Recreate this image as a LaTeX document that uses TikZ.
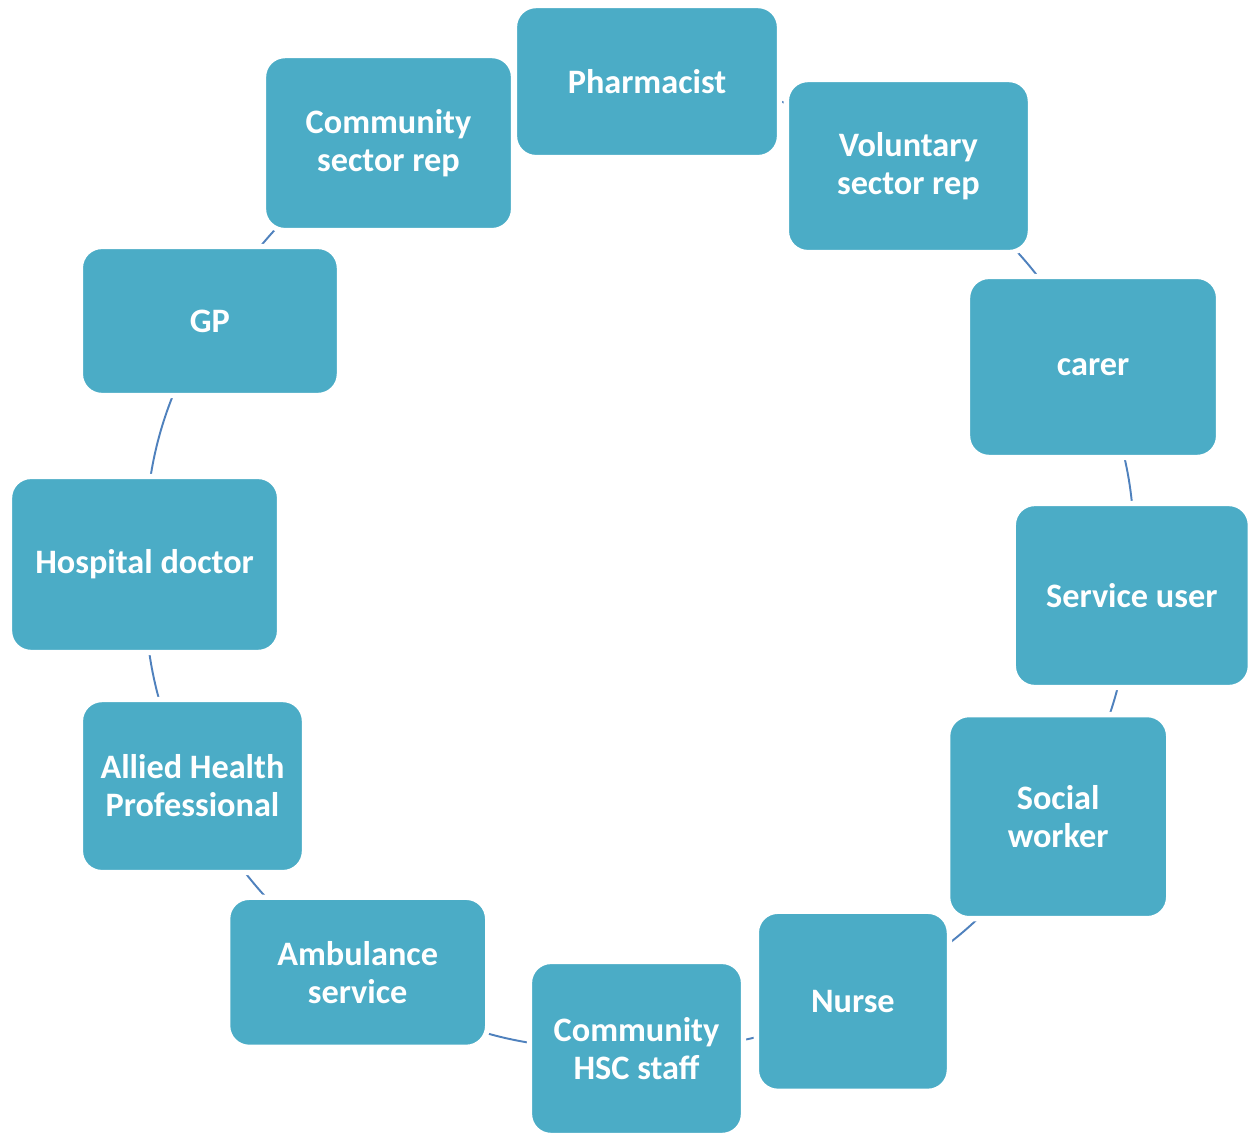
\documentclass[tikz,border=0pt]{standalone}
\usepackage{fontspec}
\setmainfont{Carlito}
\usetikzlibrary{backgrounds}
\definecolor{boxfill}{HTML}{4BACC6}
\definecolor{ringline}{HTML}{4F81BD}
\tikzset{
  member/.style={fill=boxfill, draw=white, line width=3pt, rounded corners=0.43cm, text=white,
    font=\bfseries\fontsize{19.5}{21.6}\selectfont, align=center, inner sep=0pt},
  ring/.style={color=ringline, line width=1.1pt}
}
\begin{document}
\begin{tikzpicture}
      \useasboundingbox (-12.8,-11.32) rectangle (12.2,11.4);
      \draw
        (89.18:9.77) node[member, minimum width=5.3cm, minimum height=3.04cm] (pharm){Pharmacist}
        (56.4:9.70) node[member, minimum width=4.88cm, minimum height=3.46cm] (vol){Voluntary\\sector rep}
        (24.14:9.93) node[member, minimum width=5.02cm, minimum height=3.62cm] (carer){carer}
        (-2.97:9.85) node[member, minimum width=4.74cm, minimum height=3.68cm] (user){Service user}
        (-30.53:9.71) node[member, minimum width=4.42cm, minimum height=4.08cm] (social){Social\\worker}
        (-63.73:9.62) node[member, minimum width=3.86cm, minimum height=3.6cm] (nurse){Nurse}
        (-90.42:9.57) node[member, minimum width=4.28cm, minimum height=3.48cm] (hsc){Community\\HSC staff}
        (-125.06:9.83) node[member, minimum width=5.2cm, minimum height=3.0cm] (amb){Ambulance\\service}
        (-154.23:9.94) node[member, minimum width=4.48cm, minimum height=3.46cm] (allied){Allied Health\\Professional}
        (179.36:9.91) node[member, minimum width=5.4cm, minimum height=3.52cm] (hosp){Hospital doctor}
        (149.93:9.94) node[member, minimum width=5.18cm, minimum height=2.98cm] (gp){GP}
        (120.5:9.91) node[member, minimum width=5.0cm, minimum height=3.5cm] (comm){Community\\sector rep};
      \begin{scope}[on background layer={ring}]
        \draw (pharm.center) to[bend left=16] (vol.center);
        \draw (vol.center) to[bend left=16] (carer.center);
        \draw (carer.center) to[bend left=14] (user.center);
        \draw (user.center) to[bend left=14] (social.center);
        \draw (social.center) to[bend left=16] (nurse.center);
        \draw (nurse.center) to[bend left=13] (hsc.center);
        \draw (hsc.center) to[bend left=17] (amb.center);
        \draw (amb.center) to[bend left=15] (allied.center);
        \draw (allied.center) to[bend left=13] (hosp.center);
        \draw (hosp.center) to[bend left=15] (gp.center);
        \draw (gp.center) to[bend left=15] (comm.center);
        \draw (comm.center) to[bend left=16] (pharm.center);
      \end{scope}
    \end{tikzpicture}
\end{document}
